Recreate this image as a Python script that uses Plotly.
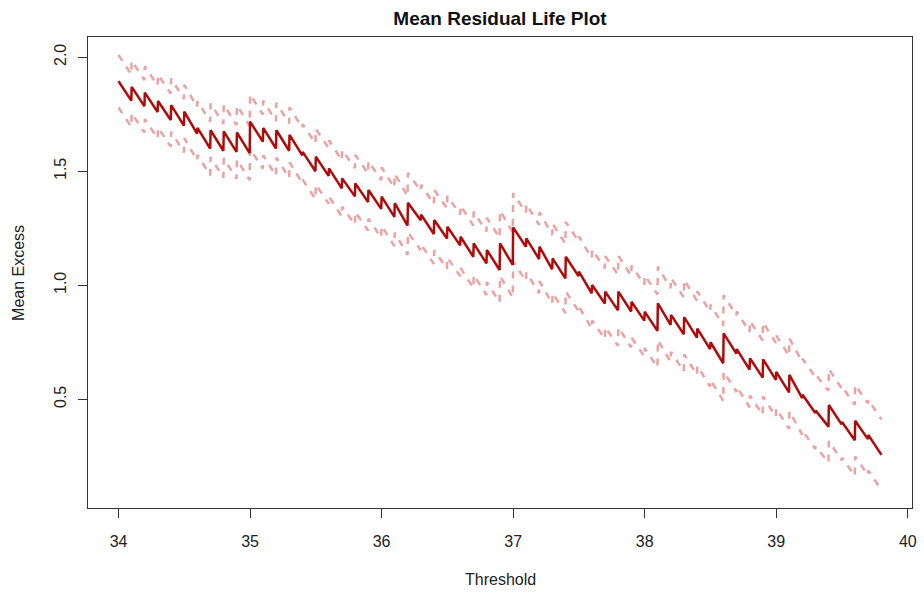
import plotly.graph_objects as go

# Threshold steps (data recorded at 0.1 resolution)
threshold_steps = [34.0, 34.1, 34.2, 34.3, 34.4, 34.5, 34.6, 34.7, 34.8, 34.9,
                   35.0, 35.1, 35.2, 35.3, 35.4, 35.5, 35.6, 35.7, 35.8, 35.9,
                   36.0, 36.1, 36.2, 36.3, 36.4, 36.5, 36.6, 36.7, 36.8, 36.9,
                   37.0, 37.1, 37.2, 37.3, 37.4, 37.5, 37.6, 37.7, 37.8, 37.9,
                   38.0, 38.1, 38.2, 38.3, 38.4, 38.5, 38.6, 38.7, 38.8, 38.9,
                   39.0, 39.1, 39.2, 39.3, 39.4, 39.5, 39.6, 39.7, 39.8]

# Mean excess right at each step (tooth peaks)
mean_peak = [1.895, 1.870, 1.845, 1.808, 1.790, 1.762, 1.690, 1.680, 1.675, 1.670,
             1.718, 1.690, 1.680, 1.660, 1.585, 1.564, 1.513, 1.469, 1.447, 1.418,
             1.389, 1.360, 1.362, 1.310, 1.286, 1.257, 1.213, 1.184, 1.155, 1.184,
             1.254, 1.206, 1.169, 1.118, 1.125, 1.060, 1.001, 0.972, 0.972, 0.928,
             0.884, 0.921, 0.870, 0.860, 0.810, 0.750, 0.789, 0.720, 0.680, 0.675,
             0.620, 0.607, 0.520, 0.450, 0.475, 0.400, 0.406, 0.343]

# Mean excess just before the next step (tooth troughs)
mean_trough = [1.810, 1.785, 1.760, 1.725, 1.700, 1.665, 1.600, 1.590, 1.585, 1.580,
               1.630, 1.600, 1.590, 1.570, 1.500, 1.480, 1.425, 1.390, 1.365, 1.335,
               1.300, 1.262, 1.285, 1.225, 1.205, 1.175, 1.125, 1.096, 1.067, 1.089,
               1.169, 1.115, 1.070, 1.030, 1.040, 0.965, 0.920, 0.890, 0.885, 0.845,
               0.800, 0.826, 0.785, 0.770, 0.720, 0.658, 0.700, 0.630, 0.595, 0.585,
               0.530, 0.505, 0.440, 0.380, 0.390, 0.320, 0.325, 0.256]

# 95% confidence half-width for each tooth
ci_half = [0.115, 0.115, 0.116, 0.116, 0.117, 0.117, 0.118, 0.118, 0.118, 0.119,
           0.119, 0.120, 0.120, 0.121, 0.122, 0.122, 0.123, 0.124, 0.125, 0.126,
           0.128, 0.129, 0.130, 0.131, 0.133, 0.135, 0.137, 0.139, 0.141, 0.143,
           0.150, 0.150, 0.151, 0.152, 0.153, 0.154, 0.155, 0.156, 0.157, 0.158,
           0.160, 0.161, 0.162, 0.163, 0.164, 0.165, 0.168, 0.165, 0.163, 0.162,
           0.160, 0.160, 0.158, 0.157, 0.158, 0.156, 0.157, 0.155]

x_ticks = [34, 35, 36, 37, 38, 39, 40]
y_ticks = [0.5, 1.0, 1.5, 2.0]
y_tick_text = ["0.5", "1.0", "1.5", "2.0"]

# Build the sawtooth path
xs, ym, yu, yl = [], [], [], []
for k in range(len(mean_peak)):
    t0 = threshold_steps[k]
    t1 = threshold_steps[k + 1]
    t_end = t1 if k == len(mean_peak) - 1 else t1 - 0.003
    for t, m in ((t0, mean_peak[k]), (t_end, mean_trough[k])):
        xs.append(t)
        ym.append(m)
        yu.append(m + ci_half[k])
        yl.append(m - ci_half[k])

FONT = "Liberation Sans, Arial, sans-serif"
ci_color = "#EAA2A2"

fig = go.Figure()
fig.add_trace(go.Scatter(x=xs, y=yu, mode="lines",
                         line=dict(color=ci_color, width=2.5, dash="7px,7px"),
                         showlegend=False, hoverinfo="skip"))
fig.add_trace(go.Scatter(x=xs, y=yl, mode="lines",
                         line=dict(color=ci_color, width=2.5, dash="7px,7px"),
                         showlegend=False, hoverinfo="skip"))
fig.add_trace(go.Scatter(x=xs, y=ym, mode="lines",
                         line=dict(color="#B00B0B", width=2.5),
                         showlegend=False))

fig.update_layout(
    width=924, height=593,
    margin=dict(l=88, r=7, t=37, b=85),
    paper_bgcolor="white", plot_bgcolor="white",
    font=dict(family=FONT, size=16, color="#222"),
    title=dict(text="<b>Mean Residual Life Plot</b>", x=0.5, xref="paper", xanchor="center",
               y=1 - 18 / 593, yref="container", yanchor="middle",
               font=dict(family=FONT, size=19, color="#111")),
    xaxis=dict(range=[33.768, 40.032], tickvals=x_ticks, ticks="outside", ticklen=9,
               tickcolor="#333", tickwidth=1, showline=True, mirror=True,
               linecolor="#333", linewidth=1, showgrid=False, zeroline=False,
               tickfont=dict(size=16), ticklabelstandoff=10),
    yaxis=dict(range=[0.023, 2.089], tickvals=y_ticks, ticktext=y_tick_text,
               ticks="outside", ticklen=9, tickangle=-90,
               tickcolor="#333", tickwidth=1, showline=True, mirror=True,
               linecolor="#333", linewidth=1, showgrid=False, zeroline=False,
               tickfont=dict(size=16), ticklabelstandoff=6),
    annotations=[
        dict(text="Threshold", x=0.5, xref="paper", y=-(579 - 508) / 471, yref="paper",
             xanchor="center", yanchor="middle", showarrow=False,
             font=dict(family=FONT, size=16, color="#222")),
        dict(text="Mean Excess", x=-(88 - 18) / 829, xref="paper", y=0.5, yref="paper",
             xanchor="center", yanchor="middle", textangle=-90, showarrow=False,
             font=dict(family=FONT, size=16, color="#222")),
    ],
)

fig.write_html("out.html")
